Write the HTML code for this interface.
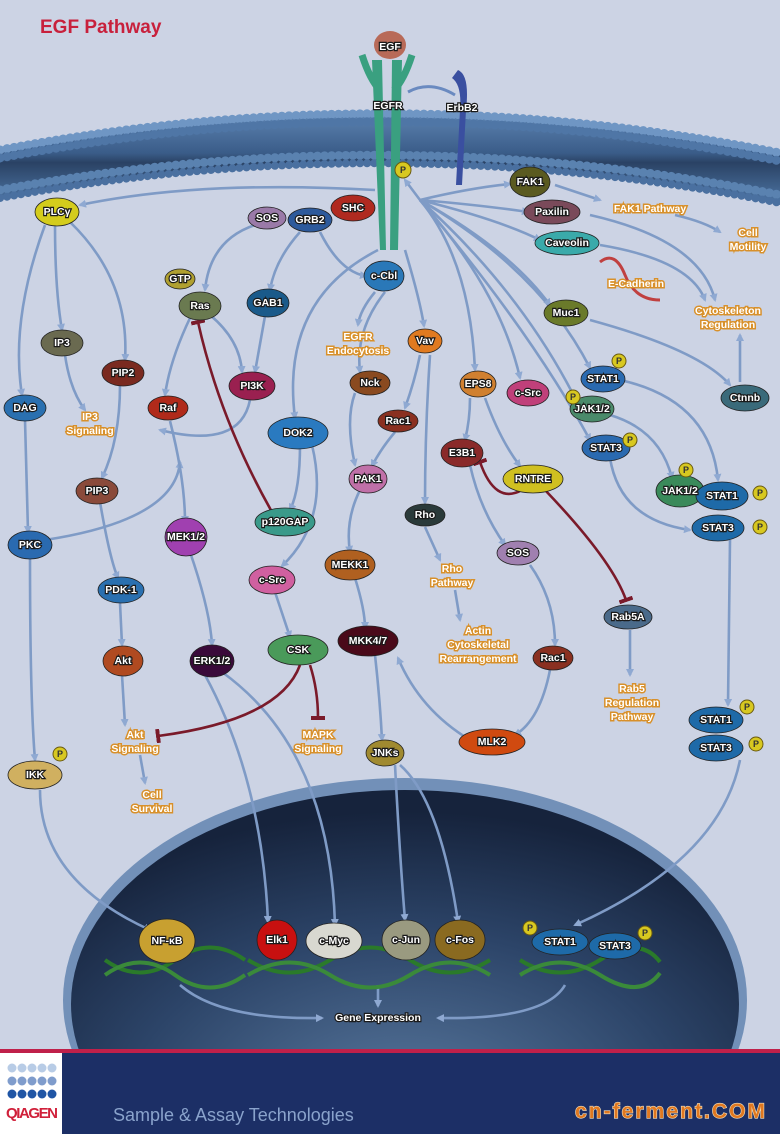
<!DOCTYPE html>
<html><head><meta charset="utf-8"><style>
html,body{margin:0;padding:0;background:#ccd3e4;width:780px;height:1134px;overflow:hidden}
svg{display:block}
.n{font-family:"Liberation Sans",sans-serif;font-size:10.5px;font-weight:bold;fill:#fff;stroke:#1a1a1a;stroke-width:2.4px;paint-order:stroke;text-anchor:middle;dominant-baseline:central}
.t{font-family:"Liberation Sans",sans-serif;font-size:10.5px;font-weight:bold;fill:#fff;stroke:#d8902a;stroke-width:3px;paint-order:stroke;text-anchor:middle}
.a{fill:none;stroke:#7f9bc6;stroke-width:2.6;marker-end:url(#ar)}
.i{fill:none;stroke:#7a1a2a;stroke-width:2.6;marker-end:url(#tb)}
.p{fill:#d8c820;stroke:#6a5a10;stroke-width:1}
.pt{font-family:"Liberation Sans",sans-serif;font-size:9px;font-weight:bold;fill:#333;text-anchor:middle;dominant-baseline:central}
</style></head><body>
<svg width="780" height="1134" viewBox="0 0 780 1134" xmlns="http://www.w3.org/2000/svg">
<defs>
<marker id="ar" markerWidth="8" markerHeight="8" refX="6" refY="4" orient="auto" markerUnits="userSpaceOnUse" viewBox="0 0 8 8"><path d="M0,0 L8,4 L0,8 z" fill="#8fa9d2"/></marker>
<marker id="tb" markerWidth="4" markerHeight="14" refX="2" refY="7" orient="auto" markerUnits="userSpaceOnUse"><rect x="0" y="0" width="4" height="14" fill="#7a1a2a"/></marker>
<radialGradient id="nuc" cx="0.5" cy="0.75" r="0.7"><stop offset="0" stop-color="#5a7aa0"/><stop offset="0.6" stop-color="#2c4468"/><stop offset="1" stop-color="#16233c"/></radialGradient>
<linearGradient id="mem" x1="0" y1="0" x2="0" y2="1"><stop offset="0" stop-color="#5f86b4"/><stop offset="0.45" stop-color="#3a5c88"/><stop offset="0.55" stop-color="#2a4264"/><stop offset="1" stop-color="#4f78a8"/></linearGradient>
</defs>
<rect width="780" height="1134" fill="#ccd3e4"/>
<text x="40" y="33" font-family="Liberation Sans,sans-serif" font-size="19" font-weight="bold" fill="#c8203c">EGF Pathway</text>

<path d="M0,147 Q390,73 780,150 L780,205 Q390,128 0,200 z" fill="url(#mem)"/>
<path d="M0,150 Q390,76 780,153" fill="none" stroke="#6f96c4" stroke-width="9" stroke-dasharray="0.1 7" stroke-linecap="round"/>
<path d="M0,158 Q390,84 780,161" fill="none" stroke="#4f76a6" stroke-width="9" stroke-dasharray="0.1 7" stroke-linecap="round"/>
<path d="M0,190 Q390,118 780,195" fill="none" stroke="#5a82b0" stroke-width="9" stroke-dasharray="0.1 7" stroke-linecap="round"/>
<path d="M0,198 Q390,126 780,203" fill="none" stroke="#4a70a0" stroke-width="8" stroke-dasharray="0.1 7" stroke-linecap="round"/>

<ellipse cx="405" cy="1000" rx="342" ry="222" fill="#7290b8"/>
<ellipse cx="405" cy="1004" rx="334" ry="214" fill="url(#nuc)"/>

<path d="M372,60 L380,250 L386,250 L382,60 z M392,60 L390,250 L398,250 L402,60 z" fill="#3aa080"/>
<path d="M362,55 Q370,80 380,90 M412,55 Q404,80 394,90" stroke="#3aa080" stroke-width="7" fill="none"/>
<ellipse cx="390" cy="45" rx="16" ry="14" fill="#b86a58"/>
<path d="M458,70 Q470,75 466,110 L462,185 L456,185 L460,110 Q462,85 452,78 z" fill="#3a4fa0"/>
<path d="M408,92 Q430,80 455,95" stroke="#6a8ac0" stroke-width="3" fill="none"/>
<text class="n" x="390" y="47">EGF</text>
<text class="n" x="388" y="106">EGFR</text>
<text class="n" x="462" y="108">ErbB2</text>
<circle class="p" cx="403" cy="170" r="8"/><text class="pt" x="403" y="170">P</text>

<path class="a" d="M375,190 Q200,180 80,205"/>
<path class="a" d="M55,225 Q55,290 62,330"/>
<path class="a" d="M45,225 Q10,320 22,395"/>
<path class="a" d="M70,222 Q130,280 125,360"/>
<path class="a" d="M65,355 Q70,390 85,410"/>
<path class="a" d="M120,385 Q120,440 102,478"/>
<path class="a" d="M25,420 L28,532"/>
<path class="a" d="M45,540 Q175,520 180,462"/>
<path class="a" d="M250,400 Q240,450 160,430"/>
<path class="a" d="M100,502 Q110,560 118,578"/>
<path class="a" d="M120,603 L122,645"/>
<path class="a" d="M122,675 L125,725"/>
<path class="a" d="M140,755 L145,783"/>
<path class="a" d="M30,558 Q30,700 35,760"/>
<path class="a" d="M40,790 Q40,880 150,930"/>
<path class="a" d="M255,225 Q210,240 205,290"/>
<path class="a" d="M190,318 Q170,360 165,395"/>
<path class="a" d="M210,315 Q240,340 242,372"/>
<path class="a" d="M265,316 L255,372"/>
<path class="a" d="M170,421 Q185,480 185,522"/>
<path class="a" d="M190,552 Q210,610 212,645"/>
<path class="a" d="M205,675 Q262,780 268,922"/>
<path class="a" d="M222,672 Q330,750 335,925"/>
<path class="a" d="M320,232 Q340,272 366,276"/>
<path class="a" d="M300,232 Q275,260 270,290"/>
<path class="a" d="M375,292 Q360,310 358,325"/>
<path class="a" d="M378,250 Q280,300 295,418"/>
<path class="a" d="M300,445 Q300,490 290,510"/>
<path class="i" d="M272,512 Q220,420 198,322"/>
<path class="a" d="M312,445 Q330,520 282,566"/>
<path class="a" d="M275,592 L290,637"/>
<path class="i" d="M300,665 Q280,720 158,736"/>
<path class="i" d="M310,665 Q318,690 318,718"/>
<path class="a" d="M385,292 Q355,330 360,372"/>
<path class="a" d="M355,393 Q345,420 355,465"/>
<path class="a" d="M420,355 Q415,380 405,408"/>
<path class="a" d="M395,432 Q380,450 372,466"/>
<path class="a" d="M360,490 Q345,520 350,552"/>
<path class="a" d="M355,578 Q365,610 365,628"/>
<path class="a" d="M375,655 Q380,700 382,740"/>
<path class="a" d="M395,765 Q400,860 405,920"/>
<path class="a" d="M400,765 Q440,800 458,922"/>
<path class="a" d="M470,740 Q420,710 398,658"/>
<path class="a" d="M430,355 Q425,430 425,503"/>
<path class="a" d="M425,527 L440,560"/>
<path class="a" d="M455,590 L460,620"/>
<path class="a" d="M405,250 Q420,300 424,326"/>
<path class="a" d="M420,200 Q470,260 475,370"/>
<path class="a" d="M420,200 Q500,290 520,378"/>
<path class="a" d="M420,200 Q540,270 590,368"/>
<path class="a" d="M420,200 Q520,290 575,398"/>
<path class="a" d="M420,200 Q530,330 590,440"/>
<path class="a" d="M420,200 Q510,250 550,305"/>
<path class="a" d="M420,200 Q500,220 540,240"/>
<path class="a" d="M420,200 Q480,205 528,212"/>
<path class="a" d="M420,200 Q470,188 510,184"/>
<path class="a" d="M420,200 L405,180"/>
<path class="a" d="M470,398 Q470,420 465,440"/>
<path class="a" d="M485,398 Q500,440 520,466"/>
<path class="a" d="M470,465 Q480,510 505,545"/>
<path class="a" d="M530,565 Q555,600 555,645"/>
<path class="a" d="M550,670 Q540,720 515,735"/>
<path class="i" d="M545,490 Q612,560 626,600"/>
<path class="i" d="M522,490 Q495,505 480,462"/>
<path class="a" d="M630,630 L630,675"/>
<path class="a" d="M610,458 Q620,520 690,530"/>
<path class="a" d="M610,415 Q660,430 672,478"/>
<path class="a" d="M620,380 Q710,400 718,480"/>
<path class="a" d="M730,540 L728,705"/>
<path class="a" d="M740,760 Q720,860 575,925"/>
<path class="a" d="M740,382 L740,335"/>
<path class="a" d="M590,320 Q700,350 730,385"/>
<path class="a" d="M590,215 Q700,240 715,300"/>
<path class="a" d="M600,245 Q690,260 705,300"/>
<path class="a" d="M555,185 L600,200"/>
<path class="a" d="M675,215 Q705,222 720,232"/>
<path d="M600,262 Q615,250 625,275 T660,300" stroke="#c04040" stroke-width="3" fill="none"/>
<path class="a" d="M180,985 Q220,1020 322,1018"/>
<path class="a" d="M565,985 Q545,1020 438,1018"/>
<path class="a" d="M378,985 L378,1006"/>

<g stroke-width="4" fill="none">
<path d="M105,960 Q140,985 175,960 T245,960" stroke="#2a7a2a"/><path d="M105,975 Q140,950 175,975 T245,975" stroke="#3a8a3a"/>
<path d="M248,960 Q290,985 330,960 T410,960 T490,960" stroke="#2a7a2a"/><path d="M248,975 Q290,950 330,975 T410,975 T490,975" stroke="#3a8a3a"/>
<path d="M520,960 Q560,985 600,960 T660,962" stroke="#2a7a2a"/><path d="M520,975 Q560,950 600,975 T660,973" stroke="#3a8a3a"/>
</g>

<g stroke="#222" stroke-width="0.8">
<ellipse cx="57" cy="212" rx="22" ry="14" fill="#d4cc1c"/>
<ellipse cx="267" cy="218" rx="19" ry="11" fill="#9a7aa8"/>
<ellipse cx="310" cy="220" rx="22" ry="12" fill="#2d5a9c"/>
<ellipse cx="353" cy="208" rx="22" ry="13" fill="#b02a20"/>
<ellipse cx="530" cy="182" rx="20" ry="15" fill="#5a5a20"/>
<ellipse cx="552" cy="212" rx="28" ry="12" fill="#7a4a5a"/>
<ellipse cx="567" cy="243" rx="32" ry="12" fill="#3aaaaa"/>
<ellipse cx="384" cy="276" rx="20" ry="15" fill="#2a78b8"/>
<ellipse cx="180" cy="279" rx="15" ry="10" fill="#b0a030"/>
<ellipse cx="200" cy="306" rx="21" ry="14" fill="#6a7a50"/>
<ellipse cx="268" cy="303" rx="21" ry="14" fill="#1a5a8a"/>
<ellipse cx="566" cy="313" rx="22" ry="13" fill="#6a7a2a"/>
<ellipse cx="425" cy="341" rx="17" ry="12" fill="#e07a20"/>
<ellipse cx="62" cy="343" rx="21" ry="13" fill="#6a6a50"/>
<ellipse cx="123" cy="373" rx="21" ry="13" fill="#7a2a20"/>
<ellipse cx="252" cy="386" rx="23" ry="14" fill="#9a2050"/>
<ellipse cx="25" cy="408" rx="21" ry="13" fill="#2a70b0"/>
<ellipse cx="168" cy="408" rx="20" ry="12" fill="#b02a1a"/>
<ellipse cx="370" cy="383" rx="20" ry="12" fill="#8a4a20"/>
<ellipse cx="478" cy="384" rx="18" ry="13" fill="#d08030"/>
<ellipse cx="528" cy="393" rx="21" ry="13" fill="#c0407a"/>
<ellipse cx="603" cy="379" rx="22" ry="13" fill="#2a6ab0"/>
<ellipse cx="592" cy="409" rx="22" ry="13" fill="#4a8a6a"/>
<ellipse cx="745" cy="398" rx="24" ry="13" fill="#3a6a7a"/>
<ellipse cx="398" cy="421" rx="20" ry="11" fill="#8a3020"/>
<ellipse cx="298" cy="433" rx="30" ry="16" fill="#2a7ac0"/>
<ellipse cx="462" cy="453" rx="21" ry="14" fill="#8a2a2a"/>
<ellipse cx="606" cy="448" rx="24" ry="13" fill="#2a6ab0"/>
<ellipse cx="368" cy="479" rx="19" ry="14" fill="#c070a8"/>
<ellipse cx="533" cy="479" rx="30" ry="14" fill="#d0c020"/>
<ellipse cx="680" cy="491" rx="24" ry="16" fill="#3a8a5a"/>
<ellipse cx="722" cy="496" rx="26" ry="14" fill="#1e6aa8"/>
<ellipse cx="718" cy="528" rx="26" ry="13" fill="#1e6aa8"/>
<ellipse cx="97" cy="491" rx="21" ry="13" fill="#8a4a3a"/>
<ellipse cx="425" cy="515" rx="20" ry="11" fill="#2a3a3a"/>
<ellipse cx="30" cy="545" rx="22" ry="14" fill="#2a6ab0"/>
<ellipse cx="186" cy="537" rx="21" ry="19" fill="#a040b0"/>
<ellipse cx="285" cy="522" rx="30" ry="14" fill="#3a9a8a"/>
<ellipse cx="350" cy="565" rx="25" ry="15" fill="#b06020"/>
<ellipse cx="518" cy="553" rx="21" ry="12" fill="#a080b0"/>
<ellipse cx="121" cy="590" rx="23" ry="13" fill="#2a70b0"/>
<ellipse cx="272" cy="580" rx="23" ry="14" fill="#d060a0"/>
<ellipse cx="628" cy="617" rx="24" ry="12" fill="#4a6a8a"/>
<ellipse cx="298" cy="650" rx="30" ry="15" fill="#4a9a5a"/>
<ellipse cx="368" cy="641" rx="30" ry="15" fill="#4a0a1a"/>
<ellipse cx="123" cy="661" rx="20" ry="15" fill="#b04a20"/>
<ellipse cx="212" cy="661" rx="22" ry="16" fill="#3a0a3a"/>
<ellipse cx="553" cy="658" rx="20" ry="12" fill="#8a3020"/>
<ellipse cx="492" cy="742" rx="33" ry="13" fill="#d04a10"/>
<ellipse cx="385" cy="753" rx="19" ry="13" fill="#a08a30"/>
<ellipse cx="716" cy="720" rx="27" ry="13" fill="#1e6aa8"/>
<ellipse cx="716" cy="748" rx="27" ry="13" fill="#1e6aa8"/>
<ellipse cx="35" cy="775" rx="27" ry="14" fill="#d0b060"/>
<ellipse cx="167" cy="941" rx="28" ry="22" fill="#c8a030"/>
<circle cx="277" cy="940" r="20" fill="#c81010"/>
<ellipse cx="334" cy="941" rx="28" ry="18" fill="#d8d8d0"/>
<ellipse cx="406" cy="940" rx="24" ry="20" fill="#9a9a80"/>
<ellipse cx="460" cy="940" rx="25" ry="20" fill="#8a6a20"/>
<ellipse cx="560" cy="942" rx="28" ry="13" fill="#1e6aa8"/>
<ellipse cx="615" cy="946" rx="26" ry="13" fill="#1e6aa8"/>
</g>
<g>
<circle class="p" cx="619" cy="361" r="7"/><text class="pt" x="619" y="361">P</text>
<circle class="p" cx="573" cy="397" r="7"/><text class="pt" x="573" y="397">P</text>
<circle class="p" cx="630" cy="440" r="7"/><text class="pt" x="630" y="440">P</text>
<circle class="p" cx="686" cy="470" r="7"/><text class="pt" x="686" y="470">P</text>
<circle class="p" cx="760" cy="493" r="7"/><text class="pt" x="760" y="493">P</text>
<circle class="p" cx="760" cy="527" r="7"/><text class="pt" x="760" y="527">P</text>
<circle class="p" cx="747" cy="707" r="7"/><text class="pt" x="747" y="707">P</text>
<circle class="p" cx="756" cy="744" r="7"/><text class="pt" x="756" y="744">P</text>
<circle class="p" cx="60" cy="754" r="7"/><text class="pt" x="60" y="754">P</text>
<circle class="p" cx="530" cy="928" r="7"/><text class="pt" x="530" y="928">P</text>
<circle class="p" cx="645" cy="933" r="7"/><text class="pt" x="645" y="933">P</text>
</g>
<g>
<text class="n" x="57" y="212">PLCγ</text><text class="n" x="267" y="218">SOS</text><text class="n" x="310" y="220">GRB2</text>
<text class="n" x="353" y="208">SHC</text><text class="n" x="530" y="182">FAK1</text><text class="n" x="552" y="212">Paxilin</text>
<text class="n" x="567" y="243">Caveolin</text><text class="n" x="384" y="276">c-Cbl</text><text class="n" x="180" y="279">GTP</text>
<text class="n" x="200" y="306">Ras</text><text class="n" x="268" y="303">GAB1</text><text class="n" x="566" y="313">Muc1</text>
<text class="n" x="425" y="341">Vav</text><text class="n" x="62" y="343">IP3</text><text class="n" x="123" y="373">PIP2</text>
<text class="n" x="252" y="386">PI3K</text><text class="n" x="25" y="408">DAG</text><text class="n" x="168" y="408">Raf</text>
<text class="n" x="370" y="383">Nck</text><text class="n" x="478" y="384">EPS8</text><text class="n" x="528" y="393">c-Src</text>
<text class="n" x="603" y="379">STAT1</text><text class="n" x="592" y="409">JAK1/2</text><text class="n" x="745" y="398">Ctnnb</text>
<text class="n" x="398" y="421">Rac1</text><text class="n" x="298" y="433">DOK2</text><text class="n" x="462" y="453">E3B1</text>
<text class="n" x="606" y="448">STAT3</text><text class="n" x="368" y="479">PAK1</text><text class="n" x="533" y="479">RNTRE</text>
<text class="n" x="680" y="491">JAK1/2</text><text class="n" x="722" y="496">STAT1</text><text class="n" x="718" y="528">STAT3</text>
<text class="n" x="97" y="491">PIP3</text><text class="n" x="425" y="515">Rho</text><text class="n" x="30" y="545">PKC</text>
<text class="n" x="186" y="537">MEK1/2</text><text class="n" x="285" y="522">p120GAP</text><text class="n" x="350" y="565">MEKK1</text>
<text class="n" x="518" y="553">SOS</text><text class="n" x="121" y="590">PDK-1</text><text class="n" x="272" y="580">c-Src</text>
<text class="n" x="628" y="617">Rab5A</text><text class="n" x="298" y="650">CSK</text><text class="n" x="368" y="641">MKK4/7</text>
<text class="n" x="123" y="661">Akt</text><text class="n" x="212" y="661">ERK1/2</text><text class="n" x="553" y="658">Rac1</text>
<text class="n" x="492" y="742">MLK2</text><text class="n" x="385" y="753">JNKs</text><text class="n" x="716" y="720">STAT1</text>
<text class="n" x="716" y="748">STAT3</text><text class="n" x="35" y="775">IKK</text><text class="n" x="167" y="941">NF-κB</text>
<text class="n" x="277" y="940">Elk1</text><text class="n" x="334" y="941">c-Myc</text><text class="n" x="406" y="940">c-Jun</text>
<text class="n" x="460" y="940">c-Fos</text><text class="n" x="560" y="942">STAT1</text><text class="n" x="615" y="946">STAT3</text>
</g>
<g>
<text class="t" x="650" y="212">FAK1 Pathway</text>
<text class="t" x="748" y="236">Cell</text><text class="t" x="748" y="250">Motility</text>
<text class="t" x="636" y="287">E-Cadherin</text>
<text class="t" x="728" y="314">Cytoskeleton</text><text class="t" x="728" y="328">Regulation</text>
<text class="t" x="358" y="340">EGFR</text><text class="t" x="358" y="354">Endocytosis</text>
<text class="t" x="90" y="420">IP3</text><text class="t" x="90" y="434">Signaling</text>
<text class="t" x="452" y="572">Rho</text><text class="t" x="452" y="586">Pathway</text>
<text class="t" x="478" y="634">Actin</text><text class="t" x="478" y="648">Cytoskeletal</text><text class="t" x="478" y="662">Rearrangement</text>
<text class="t" x="632" y="692">Rab5</text><text class="t" x="632" y="706">Regulation</text><text class="t" x="632" y="720">Pathway</text>
<text class="t" x="135" y="738">Akt</text><text class="t" x="135" y="752">Signaling</text>
<text class="t" x="318" y="738">MAPK</text><text class="t" x="318" y="752">Signaling</text>
<text class="t" x="152" y="798">Cell</text><text class="t" x="152" y="812">Survival</text>
<text class="n" x="378" y="1018">Gene Expression</text>
</g>

<rect x="0" y="1049" width="780" height="4" fill="#c0204a"/>
<rect x="0" y="1053" width="62" height="81" fill="#fff"/>
<rect x="62" y="1053" width="718" height="81" fill="#1c2f66"/>
<g>
<circle cx="12" cy="1068" r="4.5" fill="#b8cce6"/><circle cx="22" cy="1068" r="4.5" fill="#b8cce6"/><circle cx="32" cy="1068" r="4.5" fill="#b8cce6"/><circle cx="42" cy="1068" r="4.5" fill="#b8cce6"/><circle cx="52" cy="1068" r="4.5" fill="#b8cce6"/>
<circle cx="12" cy="1081" r="4.5" fill="#7f9ccc"/><circle cx="22" cy="1081" r="4.5" fill="#7f9ccc"/><circle cx="32" cy="1081" r="4.5" fill="#7f9ccc"/><circle cx="42" cy="1081" r="4.5" fill="#7f9ccc"/><circle cx="52" cy="1081" r="4.5" fill="#7f9ccc"/>
<circle cx="12" cy="1094" r="4.5" fill="#1f55a5"/><circle cx="22" cy="1094" r="4.5" fill="#1f55a5"/><circle cx="32" cy="1094" r="4.5" fill="#1f55a5"/><circle cx="42" cy="1094" r="4.5" fill="#1f55a5"/><circle cx="52" cy="1094" r="4.5" fill="#1f55a5"/>
</g>
<text x="6" y="1118" font-family="Liberation Sans,sans-serif" font-size="15" font-weight="bold" fill="#d0203a" textLength="52">QIAGEN</text>
<text x="113" y="1121" font-family="Liberation Sans,sans-serif" font-size="18" fill="#8aa3cc">Sample &amp; Assay Technologies</text>
<text x="575" y="1118" font-family="Liberation Sans,sans-serif" font-size="21" font-weight="bold" fill="#e07820" stroke="#f0e0c0" stroke-width="1.2" paint-order="stroke" textLength="190">cn-ferment.COM</text>
</svg>
</body></html>
